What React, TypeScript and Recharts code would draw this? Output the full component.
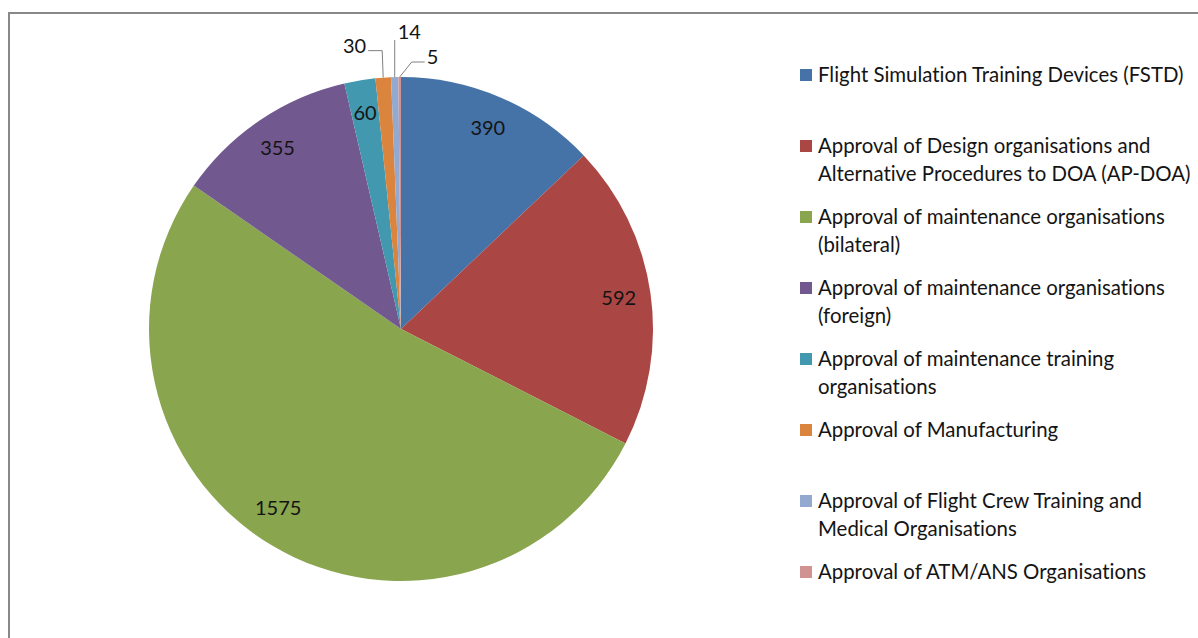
import React from 'react';
import { PieChart, Pie, Cell, Legend } from 'recharts';

const categories = [
  'Flight Simulation Training Devices (FSTD)',
  'Approval of Design organisations and Alternative Procedures to DOA (AP-DOA)',
  'Approval of maintenance organisations (bilateral)',
  'Approval of maintenance organisations (foreign)',
  'Approval of maintenance training organisations',
  'Approval of Manufacturing',
  'Approval of Flight Crew Training and Medical Organisations',
  'Approval of ATM/ANS Organisations',
];
const legendLines = [
  ['Flight Simulation Training Devices (FSTD)'],
  ['Approval of Design organisations and', 'Alternative Procedures to DOA (AP-DOA)'],
  ['Approval of maintenance organisations', '(bilateral)'],
  ['Approval of maintenance organisations', '(foreign)'],
  ['Approval of maintenance training', 'organisations'],
  ['Approval of Manufacturing'],
  ['Approval of Flight Crew Training and', 'Medical Organisations'],
  ['Approval of ATM/ANS Organisations'],
];
const values = [390, 592, 1575, 355, 60, 30, 14, 5];
const colors = ['#4572A7', '#AA4643', '#89A54E', '#71588F', '#4198AF', '#DB843D', '#93A9CF', '#D19392'];

const data = categories.map((name, i) => ({ name, value: values[i] }));

const FONT = 'Lato, "Open Sans", sans-serif';
const TEXT = '#141414';
const RAD = Math.PI / 180;

// style: label placement per slice
const insideNudge: Record<number, [number, number]> = { 2: [-10, -11] };
const outsideLayout: Record<number, { pts: [number, number][]; text: [number, number]; anchor: 'start' | 'end' }> = {
  5: { pts: [[0, 0], [-1, -27], [-15, -27]], text: [-17, -33], anchor: 'end' },
  6: { pts: [[0, 0], [0, -37]], text: [3, -46], anchor: 'start' },
  7: { pts: [[0, 0], [12, -15], [25, -15]], text: [27, -21], anchor: 'start' },
};

const renderLabel = (props: any) => {
  const { cx, cy, midAngle, outerRadius, index, value } = props;
  const out = outsideLayout[index];
  if (out) {
    const ex = cx + outerRadius * Math.cos(midAngle * RAD);
    const ey = cy - outerRadius * Math.sin(midAngle * RAD);
    const pts = out.pts.map(([dx, dy]) => `${ex + dx},${ey + dy}`).join(' ');
    return (
      <g key={`l${index}`}>
        <polyline points={pts} fill="none" stroke="#808080" strokeWidth={1} />
        <text x={ex + out.text[0]} y={ey + out.text[1]} textAnchor={out.anchor} dominantBaseline="central"
          fontFamily={FONT} fontSize={20} fill={TEXT}>{value}</text>
      </g>
    );
  }
  const r = outerRadius * 0.873;
  const n = insideNudge[index] || [0, 0];
  const x = cx + r * Math.cos(midAngle * RAD) + n[0];
  const y = cy - r * Math.sin(midAngle * RAD) + n[1];
  return (
    <text key={`l${index}`} x={x} y={y} textAnchor="middle" dominantBaseline="central"
      fontFamily={FONT} fontSize={20} fill={TEXT}>{value}</text>
  );
};

const renderLegend = () => (
  <div style={{ position: 'relative', width: 400, height: 638, fontFamily: FONT, fontSize: 20.4, color: TEXT, fontVariantLigatures: 'none' }}>
    {legendLines.map((lines, i) => (
      <div key={i} style={{ position: 'absolute', left: 0, top: 75 + 71 * i - 15 }}>
        <div style={{ position: 'absolute', left: 2, top: 9, width: 12, height: 12, background: colors[i] }} />
        <div style={{ position: 'absolute', left: 20, top: 0, whiteSpace: 'nowrap', lineHeight: '28px' }}>
          {lines.map((t, j) => <div key={j}>{t}</div>)}
        </div>
      </div>
    ))}
  </div>
);

export default function App() {
  return (
    <div style={{ position: 'fixed', left: 0, top: 0, width: 1198, height: 638, overflow: 'hidden', background: '#fff' }}>
      <div style={{ position: 'absolute', left: 8, top: 12, width: 1200, height: 640, borderTop: '2px solid #888', borderLeft: '2px solid #888' }} />
      <div style={{ position: 'absolute', left: 0, top: 0 }}>
        <PieChart width={1198} height={638} margin={{ top: 0, right: 0, bottom: 0, left: 0 }}>
          <Pie data={data} dataKey="value" nameKey="name" cx={401} cy={329} outerRadius={252}
            startAngle={90} endAngle={-270} stroke="none" label={renderLabel} labelLine={false}
            isAnimationActive={false}>
            {data.map((d, i) => <Cell key={d.name} fill={colors[i]} />)}
          </Pie>
          <Legend layout="vertical" align="right" verticalAlign="top" content={renderLegend}
            wrapperStyle={{ position: 'absolute', left: 798, top: 0, width: 400, height: 638 }} />
        </PieChart>
      </div>
    </div>
  );
}
